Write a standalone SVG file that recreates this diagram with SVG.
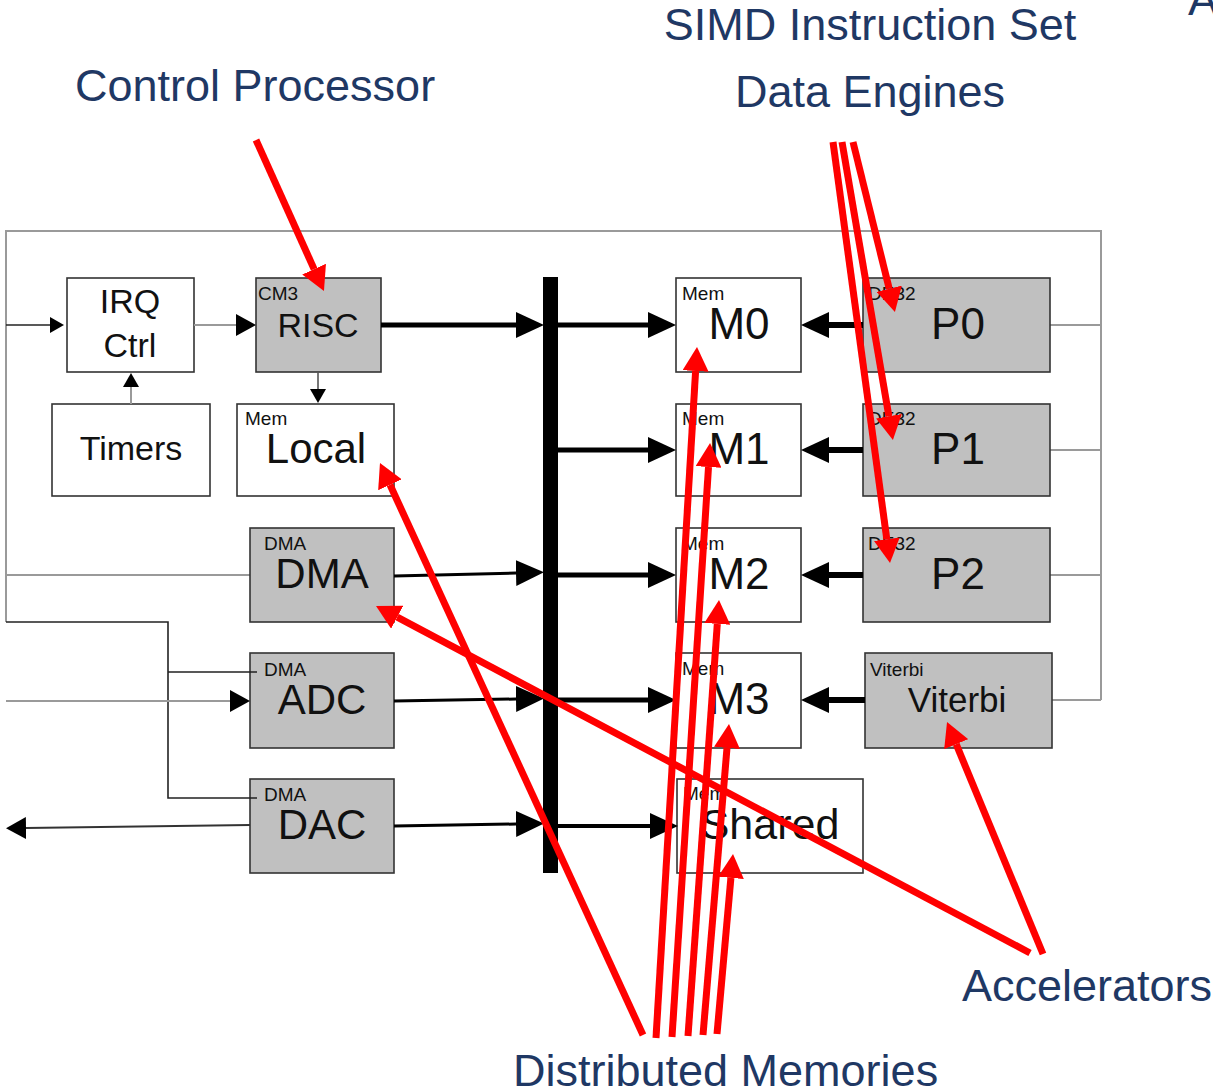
<svg xmlns="http://www.w3.org/2000/svg" width="1213" height="1091" viewBox="0 0 1213 1091">
<style>
.box{fill:#fff;stroke:#333;stroke-width:1.6}
.gbox{fill:#c0c0c0;stroke:#333;stroke-width:1.6}
.sm{font-family:"Liberation Sans",Arial,sans-serif;font-size:19px;fill:#111}
.lg{font-family:"Liberation Sans",Arial,sans-serif;fill:#111;text-anchor:middle}
.lbl{font-family:"Liberation Sans",Arial,sans-serif;font-size:45px;fill:#1f3864}
.frame{fill:none;stroke:#9a9a9a;stroke-width:2}
.thin{fill:none;stroke:#222;stroke-width:1.6}
.thick{stroke:#000;fill:none}
.red{stroke:#ff0000;stroke-width:7;fill:none}
</style>
<defs>
<marker id="ahB" markerUnits="userSpaceOnUse" markerWidth="28" markerHeight="26" viewBox="0 0 28 26" refX="0" refY="13" orient="auto"><path d="M0,0 L28,13 L0,26 z" fill="#000"/></marker>
<marker id="ahS" markerUnits="userSpaceOnUse" markerWidth="20" markerHeight="22" viewBox="0 0 20 22" refX="0" refY="11" orient="auto"><path d="M0,0 L20,11 L0,22 z" fill="#000"/></marker>
<marker id="ahT" markerUnits="userSpaceOnUse" markerWidth="14" markerHeight="16" viewBox="0 0 14 16" refX="0" refY="8" orient="auto"><path d="M0,0 L14,8 L0,16 z" fill="#000"/></marker>
<marker id="ahR" markerUnits="userSpaceOnUse" markerWidth="24" markerHeight="26" viewBox="0 0 24 26" refX="0" refY="13" orient="auto"><path d="M0,0 L24,13 L0,26 z" fill="#ff0000"/></marker>
</defs>
<rect width="1213" height="1091" fill="#fff"/>

<g id="frame">
<path class="frame" d="M6,622 L6,231 L1101,231 L1101,700"/>
<path class="frame" d="M1050,325 H1101 M1050,450 H1101 M1050,575 H1101 M1052,700 H1101 M6,575 H250"/>
</g>

<g id="irq"><rect class="box" x="67" y="278" width="127" height="94"/><text class="lg" x="130" y="313" font-size="34">IRQ</text><text class="lg" x="130" y="357" font-size="34">Ctrl</text></g>
<g id="timers"><rect class="box" x="52" y="404" width="158" height="92"/><text class="lg" x="131" y="460" font-size="34">Timers</text></g>
<g id="risc"><rect class="gbox" x="256" y="278" width="125" height="94"/><text class="sm" x="258" y="300">CM3</text><text class="lg" x="318" y="337" font-size="34">RISC</text></g>
<g id="local"><rect class="box" x="237" y="404" width="157" height="92"/><text class="sm" x="245" y="425">Mem</text><text class="lg" x="316" y="463" font-size="42">Local</text></g>
<g id="dma"><rect class="gbox" x="250" y="528" width="144" height="94"/><text class="sm" x="264" y="550">DMA</text><text class="lg" x="322" y="588" font-size="42">DMA</text></g>
<g id="adc"><rect class="gbox" x="250" y="653" width="144" height="95"/><text class="sm" x="264" y="676">DMA</text><text class="lg" x="322" y="714" font-size="42">ADC</text></g>
<g id="dac"><rect class="gbox" x="250" y="779" width="144" height="94"/><text class="sm" x="264" y="801">DMA</text><text class="lg" x="322" y="839" font-size="42">DAC</text></g>
<g id="bus"><rect x="543" y="277" width="15" height="596" fill="#000"/></g>
<g id="m0"><rect class="box" x="676" y="278" width="125" height="94"/><text class="sm" x="682" y="300">Mem</text><text class="lg" x="739" y="339" font-size="44">M0</text></g>
<g id="m1"><rect class="box" x="676" y="404" width="125" height="92"/><text class="sm" x="682" y="425">Mem</text><text class="lg" x="739" y="464" font-size="44">M1</text></g>
<g id="m2"><rect class="box" x="676" y="528" width="125" height="94"/><text class="sm" x="682" y="550">Mem</text><text class="lg" x="739" y="589" font-size="44">M2</text></g>
<g id="m3"><rect class="box" x="676" y="653" width="125" height="95"/><text class="sm" x="682" y="675">Mem</text><text class="lg" x="739" y="714" font-size="44">M3</text></g>
<g id="shared"><rect class="box" x="677" y="779" width="186" height="94"/><text class="sm" x="683" y="800">Mem</text><text class="lg" x="770" y="839" font-size="43">Shared</text></g>
<g id="p0"><rect class="gbox" x="863" y="278" width="187" height="94"/><text class="sm" x="868" y="300">DE32</text><text class="lg" x="958" y="339" font-size="44">P0</text></g>
<g id="p1"><rect class="gbox" x="863" y="404" width="187" height="92"/><text class="sm" x="868" y="425">DE32</text><text class="lg" x="958" y="464" font-size="44">P1</text></g>
<g id="p2"><rect class="gbox" x="863" y="528" width="187" height="94"/><text class="sm" x="868" y="550">DE32</text><text class="lg" x="958" y="589" font-size="44">P2</text></g>
<g id="viterbi"><rect class="gbox" x="865" y="653" width="187" height="95"/><text class="sm" x="870" y="676">Viterbi</text><text class="lg" x="957" y="712" font-size="35">Viterbi</text></g>

<g id="connectors">
<path class="thin" d="M6,622 H168 V798 H257 M168,672 H257"/>
<line x1="6" y1="325" x2="50" y2="325" stroke="#222" stroke-width="1.6" marker-end="url(#ahT)"/>
<line x1="194" y1="325" x2="236" y2="325" stroke="#9a9a9a" stroke-width="2" marker-end="url(#ahS)"/>
<line x1="131" y1="404" x2="131" y2="387" stroke="#9a9a9a" stroke-width="2" marker-end="url(#ahT)"/>
<line x1="318" y1="372" x2="318" y2="389" stroke="#555" stroke-width="1.6" marker-end="url(#ahT)"/>
<line x1="6" y1="701" x2="230" y2="701" stroke="#9a9a9a" stroke-width="2" marker-end="url(#ahS)"/>
<line x1="250" y1="825" x2="26" y2="828" stroke="#333" stroke-width="2" marker-end="url(#ahS)"/>
<line class="thick" x1="381" y1="325" x2="516" y2="325" stroke-width="5" marker-end="url(#ahB)"/>
<line class="thick" x1="394" y1="576" x2="516" y2="573" stroke-width="3" marker-end="url(#ahB)"/>
<line class="thick" x1="394" y1="701" x2="516" y2="699" stroke-width="3" marker-end="url(#ahB)"/>
<line class="thick" x1="394" y1="826" x2="516" y2="824" stroke-width="3" marker-end="url(#ahB)"/>
<line class="thick" x1="558" y1="325" x2="648" y2="325" stroke-width="5" marker-end="url(#ahB)"/>
<line class="thick" x1="558" y1="450" x2="648" y2="450" stroke-width="5" marker-end="url(#ahB)"/>
<line class="thick" x1="558" y1="575" x2="648" y2="575" stroke-width="5" marker-end="url(#ahB)"/>
<line class="thick" x1="558" y1="700" x2="648" y2="700" stroke-width="5" marker-end="url(#ahB)"/>
<line class="thick" x1="558" y1="826" x2="650" y2="826" stroke-width="4" marker-end="url(#ahB)"/>
<line class="thick" x1="863" y1="325" x2="829" y2="325" stroke-width="6" marker-end="url(#ahB)"/>
<line class="thick" x1="863" y1="450" x2="829" y2="450" stroke-width="6" marker-end="url(#ahB)"/>
<line class="thick" x1="863" y1="575" x2="829" y2="575" stroke-width="6" marker-end="url(#ahB)"/>
<line class="thick" x1="865" y1="700" x2="829" y2="700" stroke-width="6" marker-end="url(#ahB)"/>
</g>

<g id="annotations">
<line class="red" x1="256" y1="140" x2="314.1" y2="269.1" marker-end="url(#ahR)"/>
<line class="red" x1="853" y1="142" x2="889.2" y2="288.7" marker-end="url(#ahR)"/>
<line class="red" x1="842" y1="142" x2="888.9" y2="416.3" marker-end="url(#ahR)"/>
<line class="red" x1="833" y1="142" x2="886.8" y2="539.2" marker-end="url(#ahR)"/>
<line class="red" x1="643" y1="1035" x2="390.0" y2="484.8" marker-end="url(#ahR)"/>
<line class="red" x1="656" y1="1038" x2="695.6" y2="371.0" marker-end="url(#ahR)"/>
<line class="red" x1="672" y1="1037" x2="708.5" y2="467.0" marker-end="url(#ahR)"/>
<line class="red" x1="688" y1="1036" x2="717.3" y2="623.9" marker-end="url(#ahR)"/>
<line class="red" x1="703" y1="1035" x2="727.0" y2="747.9" marker-end="url(#ahR)"/>
<line class="red" x1="717" y1="1034" x2="730.9" y2="877.9" marker-end="url(#ahR)"/>
<line class="red" x1="1030" y1="953" x2="397.2" y2="617.2" marker-end="url(#ahR)"/>
<line class="red" x1="1043" y1="954" x2="956.2" y2="744.2" marker-end="url(#ahR)"/>
<text class="lbl" x="75" y="101">Control Processor</text>
<text class="lbl" x="870" y="40" text-anchor="middle">SIMD Instruction Set</text>
<text class="lbl" x="870" y="107" text-anchor="middle">Data Engines</text>
<text class="lbl" x="962" y="1001">Accelerators</text>
<text class="lbl" x="513" y="1086">Distributed Memories</text>
<text class="lbl" x="1188" y="15">A</text>
</g>
</svg>
